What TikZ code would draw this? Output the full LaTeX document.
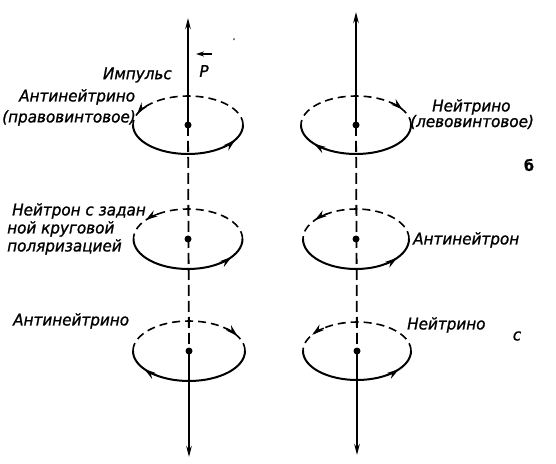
\documentclass[tikz,border=0pt]{standalone}
\usepackage{fontspec}
\usetikzlibrary{arrows.meta,calc}
\newfontfamily\lblfont[FakeStretch=0.95,FakeBold=1.2]{DejaVu Sans}
\newcommand\spinell[3]{%
  \draw[back] ($(#1)+(#2,0)$) arc[start angle=0,end angle=180,x radius=#2,y radius=#3];
  \draw[front] ($(#1)+(-#2,0)$) arc[start angle=180,end angle=360,x radius=#2,y radius=#3];
}
% center, rx, ry, from angle, to angle (arrow tip at "to")
\newcommand\spinarr[5]{%
  \draw[front,line width=1.4pt,-{Stealth[length=12pt,width=7pt]}] ($(#1)+({#2*cos(#4)},{#3*sin(#4)})$) arc[start angle=#4,end angle=#5,x radius=#2,y radius=#3];
}
\begin{document}
\begin{tikzpicture}[x=1pt,y=1pt,
  lbl/.style={font=\lblfont\itshape\fontsize{16}{18}\selectfont, inner sep=0pt},
  dotnode/.style={circle,fill,inner sep=0pt,minimum size=7pt},
  axis/.style={line width=2pt},
  axdash/.style={line width=1.8pt, dash pattern=on 11pt off 5pt},
  tip/.style={-{Stealth[length=11pt,width=5.5pt]}},
  back/.style={line width=1.6pt, dash pattern=on 8pt off 5pt},
  front/.style={line width=2pt},
]
\useasboundingbox (0,0) rectangle (556,463);

% axis points
\coordinate (t1) at (188,445);
\coordinate (b1) at (189,6);
\coordinate (t2) at (356,451);
\coordinate (b2) at (357,8);

% ellipses (behind dots)
\path (188,338) coordinate (c1) (188,224) coordinate (c2) (189,112) coordinate (c3)
      (356,338) coordinate (c4) (356,224) coordinate (c5) (357,112) coordinate (c6);
\spinell{c1}{55}{29}
\spinell{c2}{54.5}{30}
\spinell{c3}{56}{30}
\spinell{c4}{55}{29}
\spinell{c5}{53}{30}
\spinell{c6}{54}{29}

% circulation arrowheads
\spinarr{c1}{55}{29}{140}{158}
\spinarr{c1}{55}{29}{311}{329}
\spinarr{c2}{54.5}{30}{123}{141}
\spinarr{c2}{54.5}{30}{305}{323}
\spinarr{c3}{56}{30}{48}{30}
\spinarr{c3}{56}{30}{235}{217}
\spinarr{c4}{55}{29}{50}{32}
\spinarr{c4}{55}{29}{238}{220}
\spinarr{c5}{53}{30}{123}{141}
\spinarr{c5}{53}{30}{303}{321}
\spinarr{c6}{54}{29}{128}{146}
\spinarr{c6}{54}{29}{303}{321}

% dots
\node[dotnode] (d1) at (c1) {};
\node[dotnode] (d2) at (c2) {};
\node[dotnode] (d3) at (c3) {};
\node[dotnode] (d4) at (c4) {};
\node[dotnode] (d5) at (c5) {};
\node[dotnode] (d6) at (c6) {};

% axes
\draw[axis,tip] (d1.center) -- (t1);
\draw[axdash] (d1.center) -- (d3.center);
\draw[axis,tip] (d3.center) -- (b1);
\draw[axis,tip] (d4.center) -- (t2);
\draw[axdash] (d4.center) -- (d6.center);
\draw[axis,tip] (d6.center) -- (b2);

% labels
\node[lbl,anchor=east] (imp) at (172,388) {Импульс};
\node[lbl] (pp) at (204,392) {P};
\coordinate (pa1) at (212,409);
\coordinate (pa2) at (196,409);
\draw[line width=1.5pt,-{Stealth[length=8pt,width=5pt]}] (pa1) -- (pa2);
\node[lbl,font=\lblfont\fontsize{7}{7}\selectfont] (tick) at (234,422) {’};

\node[lbl,anchor=west] (l1a) at (19,366) {Антинейтрино};
\node[lbl,anchor=west] (l1b) at (2,345) {(правовинтовое)};
\node[lbl,anchor=west] (r1a) at (432,356) {Нейтрино};
\node[lbl,anchor=west] (r1b) at (410,341) {(левовинтовое)};
\node[lbl,font=\lblfont\bfseries\fontsize{15}{15}\selectfont] (bb) at (529,298) {б};

\node[lbl,anchor=west] (l2a) at (12,252) {Нейтрон с задан};
\node[lbl,anchor=west] (l2b) at (7,234) {ной круговой};
\node[lbl,anchor=west] (l2c) at (7,216) {поляризацией};
\node[lbl,anchor=west] (r2) at (413,223) {Антинейтрон};

\node[lbl,anchor=west] (l3) at (13,142) {Антинейтрино};
\node[lbl,anchor=west] (r3) at (407,138) {Нейтрино};
\node[lbl] (cc) at (517,127) {с};
\end{tikzpicture}
\end{document}
